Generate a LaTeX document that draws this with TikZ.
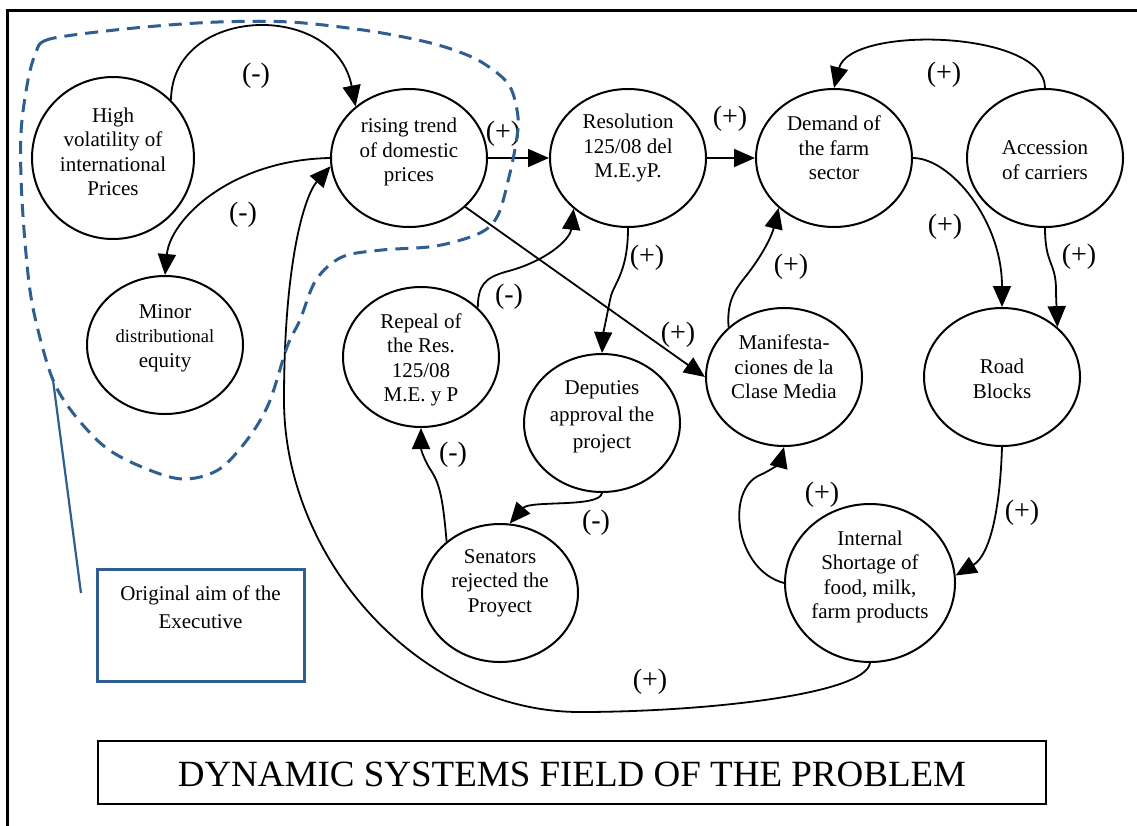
\documentclass[tikz,border=0pt]{standalone}
\usepackage{fontspec}
\setmainfont{Liberation Serif}
\usetikzlibrary{arrows.meta,shapes.geometric}
\definecolor{dblue}{RGB}{47,94,145}
\begin{document}
\begin{tikzpicture}[x=1pt,y=-1pt,
  bub/.style={draw, ellipse, line width=2pt, minimum width=156pt, minimum height=138pt, inner sep=0pt},
  txt/.style={align=center, font=\fontsize{21}{24.5}\selectfont, inner sep=0pt},
  lab/.style={font=\fontsize{28}{30}\selectfont, inner sep=0pt},
  con/.style={line width=1.8pt, -{Triangle[length=21pt,width=18pt]}},
  dline/.style={draw=dblue, line width=3pt, dash pattern=on 13pt off 8pt},
]
\useasboundingbox (0,0) rectangle (1137,825);
\clip (0,0) rectangle (1137,825);
\fill[white] (0,0) rectangle (1137,825);
\draw[line width=3pt] (7,840) -- (7,10) -- (1150,10);

% nodes
\node[bub, minimum width=162pt, minimum height=162pt] (hv) at (113,158) {};
\node[txt] (thv) at ([yshift=6pt]hv.center) {High\\volatility of\\international\\Prices};
\node[bub] (rt) at (409,158) {};
\node[txt] (trt) at ([yshift=6pt]rt.center) {rising trend\\of domestic\\prices};
\node[bub] (rs) at (628,158) {};
\node[txt] (trs) at ([yshift=10pt]rs.center) {Resolution\\125/08 del\\M.E.yP.};
\node[bub] (dm) at (834,158) {};
\node[txt] (tdm) at ([yshift=10pt]dm.center) {Demand of\\the farm\\sector};
\node[bub] (ac) at (1045,158) {};
\node[txt] (tac) at ([yshift=-2pt]ac.center) {Accession\\of carriers};
\node[bub] (mi) at (165,345) {};
\node[txt] (tmi) at ([yshift=7pt]mi.center) {Minor\\{\fontsize{18.5}{24.5}\selectfont distributional}\\equity};
\node[bub, minimum height=140pt] (rp) at (421,357) {};
\node[txt] (trp) at ([yshift=-3pt]rp.center) {Repeal of\\the Res.\\125/08\\M.E. y P};
\node[bub] (dp) at (602,423) {};
\node[txt, font=\fontsize{21}{27}\selectfont] (tdp) at ([yshift=6pt]dp.center) {Deputies\\approval the\\project};
\node[bub] (mf) at (784,377) {};
\node[txt] (tmf) at ([yshift=10pt]mf.center) {Manifesta-\\ciones de la\\Clase Media};
\node[bub] (rb) at (1002,377) {};
\node[txt] (trb) at ([yshift=-2pt]rb.center) {Road\\Blocks};
\node[bub] (sn) at (500,593) {};
\node[txt] (tsn) at ([yshift=10pt]sn.center) {Senators\\rejected the\\Proyect};
\node[bub, minimum width=170pt, minimum height=158pt] (is) at (870,583) {};
\node[txt] (tis) at ([yshift=6pt]is.center) {Internal\\Shortage of\\food, milk,\\farm products};

% connectors
\draw[con] (hv.45) .. controls (172,5) and (335,0) .. (rt.136);
\draw[con] (rt.west) .. controls (230,160) and (170,220) .. (mi.north);
\draw[con] (is.south) .. controls (865,695) and (700,712) .. (580,712)
   .. controls (420,712) and (284,560) .. (284,400)
   .. controls (284,260) and (305,195) .. (rt.186);
\draw[con] (rt.east) -- (rs.west);
\draw[con] (rt.-41) -- (mf.west);
\draw[con] (rs.east) -- (dm.west);
\draw[con] (rp.41) .. controls (478,285) and (485,278) .. (505,272)
   .. controls (545,262) and (570,240) .. (rs.223);
\draw[con] (rs.south) .. controls (628,275) and (612,285) .. (610,300)
   .. controls (606,320) and (603,335) .. (dp.north);
\draw[con] (dp.south) .. controls (600,508) and (530,500) .. (sn.82);
\draw[con] (sn.136) .. controls (443,500) and (440,485) .. (432,472)
   .. controls (425,462) and (421,450) .. (rp.south);
\draw[con] (mf.138) .. controls (726,295) and (740,285) .. (752,268)
   .. controls (765,250) and (772,235) .. (dm.222);
\draw[con] (dm.east) .. controls (950,158) and (1002,220) .. (rb.north);
\draw[con] (ac.south) .. controls (1045,265) and (1056,262) .. (1056,290)
   .. controls (1056,300) and (1057,315) .. (rb.42);
\draw[con] (ac.north) .. controls (1045,30) and (850,25) .. (dm.north);
\draw[con] (rb.south) .. controls (1000,510) and (990,555) .. (is.5);
\draw[con] (is.west) .. controls (735,570) and (725,490) .. (760,475)
   .. controls (772,470) and (780,462) .. (mf.south);

% labels
\node[lab] (la) at (256,76) {(-)};
\node[lab] (lb) at (243,215) {(-)};
\node[lab] (lc) at (650,682) {(+)};
\node[lab] (ld) at (503,134) {(+)};
\node[lab] (le) at (678,335) {(+)};
\node[lab] (lf) at (730,119) {(+)};
\node[lab] (lg) at (509,297) {(-)};
\node[lab] (lh) at (647,258) {(+)};
\node[lab] (li) at (596,523) {(-)};
\node[lab] (lj) at (453,455) {(-)};
\node[lab] (lk) at (791,267) {(+)};
\node[lab] (ll) at (945,227) {(+)};
\node[lab] (lm) at (1079,257) {(+)};
\node[lab] (ln) at (944,75) {(+)};
\node[lab] (lo) at (1022,513) {(+)};
\node[lab] (lp) at (822,495) {(+)};

% dashed region
\draw[dline] plot[smooth cycle, tension=0.55] coordinates {
 (36,52) (44,41) (73,35) (145,27) (218,22) (290,22) (363,30) (418,40)
 (454,50) (483,63) (509,85) (518,117) (516,143) (509,177) (498,215)
 (480,233) (436,246) (382,250) (342,257) (316,280) (300,320) (287,347)
 (269,403) (247,440) (218,470) (182,479) (142,467) (105,447) (73,413)
 (53,380) (38,330) (29,283) (22,200) (21,133) (28,80)};

\coordinate (dc) at (53,380);
\coordinate (bc) at (81,593);
\draw[dblue, line width=2.2pt] (dc) -- (bc);

\node[draw=dblue, line width=3pt, minimum width=207pt, minimum height=112pt, inner sep=0pt] (ob) at (200.5,625) {};
\node[txt, font=\fontsize{21}{28}\selectfont] (tob) at (200.5,607) {Original aim of the\\Executive};

\node[draw, line width=2.5pt, minimum width=948pt, minimum height=63pt, inner sep=0pt] (tt) at (572,772.5) {};
\node[inner sep=0pt, font=\fontsize{37}{40}\selectfont] (ttt) at (572,774) {DYNAMIC SYSTEMS FIELD OF THE PROBLEM};
\end{tikzpicture}
\end{document}
